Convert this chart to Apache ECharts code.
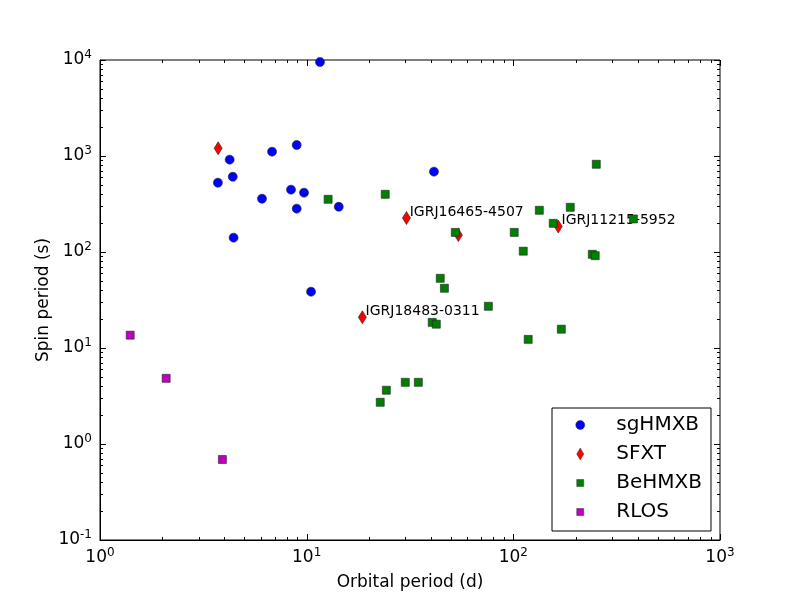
<!DOCTYPE html>
<html lang="en">
<head>
  <meta charset="UTF-8">
  <title>Spin period vs orbital period</title>
  <script src="https://cdn.jsdelivr.net/npm/echarts@6/dist/echarts.min.js"></script>
  <style>
    html, body { margin: 0; padding: 0; background: #fff; }
  </style>
</head>
<body>
  <div id="chart" style="width: 800px; height: 600px"></div>
  <script>
    // values (orbital period in days, spin period in seconds)
    const sgX = [11.6, 3.72, 4.24, 4.39, 4.43, 6.08, 6.80, 8.40, 8.95, 8.95, 9.71, 14.3, 10.5, 41.3]
    const sgY = [9530, 527, 916, 608, 141, 359, 1109, 446, 1302, 283, 415, 296, 38.6, 687]

    const sfxtX = [3.73, 30.4, 54.2, 165, 18.6]
    const sfxtY = [1203, 226, 150, 184, 20.9]
    const sfxtNames = ['', 'IGRJ16465-4507', '', 'IGRJ11215-5952', 'IGRJ18483-0311']

    const beX = [12.7, 24.0, 252, 133.6, 188.6, 156, 381, 52.4, 101, 111.7, 241, 249, 44.3, 46.4, 75.7, 40.5, 42.4, 170.7, 118, 30.0, 34.7, 24.3, 22.7]
    const beY = [354, 399, 820, 272, 292, 199, 221, 160, 160, 102, 94.6, 91.5, 53.2, 41.9, 27.2, 18.5, 17.7, 15.7, 12.3, 4.39, 4.39, 3.63, 2.72]

    const rlosX = [1.40, 2.09, 3.91]
    const rlosY = [13.6, 4.83, 0.69]

    const xRange = [1, 1000]
    const yRange = [0.1, 10000]

    const font = 'DejaVu Sans'
    const zip = (xs, ys) => xs.map((x, i) => [x, ys[i]])

    // tick positions for the log axes (major = decades, minor = 2..9 within)
    function logTicks(lo, hi) {
      let major = [], minor = []
      for (let e = Math.round(Math.log10(lo)); e <= Math.round(Math.log10(hi)); e++) {
        major.push(Math.pow(10, e))
        if (e < Math.round(Math.log10(hi))) {
          for (let m = 2; m <= 9; m++) minor.push(m * Math.pow(10, e))
        }
      }
      return {major, minor}
    }
    const xt = logTicks(xRange[0], xRange[1])
    const yt = logTicks(yRange[0], yRange[1])

    const tickLabel = v => '{b|10}{e|' + Math.round(Math.log10(v)) + '}'
    const tickRich = {
      b: {fontFamily: font, fontSize: 17, color: '#000'},
      e: {fontFamily: font, fontSize: 12, color: '#000', padding: [0, 0, 10, 0]}
    }

    // legend icons: the leading moveTo points pin every icon to the same 12x12 box,
    // so the marker inside keeps its own size
    const box = 'path://M0,0 M12,12 '
    const legendIcons = {
      sgHMXB: box + 'M10.5,6 A4.5,4.5 0 1 1 1.5,6 A4.5,4.5 0 1 1 10.5,6 Z',
      SFXT: box + 'M6,0 L9.5,6 L6,12 L2.5,6 Z',
      BeHMXB: box + 'M2.5,2.5 L9.5,2.5 L9.5,9.5 L2.5,9.5 Z',
      RLOS: box + 'M2.5,2.5 L9.5,2.5 L9.5,9.5 L2.5,9.5 Z'
    }

    // ticks on all four sides, drawn inward like the original
    function tickSeries(kind, values, len) {
      return {
        type: 'custom',
        silent: true,
        clip: false,
        z: 10,
        data: values.map(v => kind === 'x' ? [v, yRange[0]] : [xRange[0], v]),
        renderItem: (params, api) => {
          let cs = params.coordSys
          let p = api.coord([api.value(0), api.value(1)])
          let style = {stroke: '#000', lineWidth: 1}
          if (kind === 'x') {
            let x = Math.round(p[0]) + 0.5
            return {type: 'group', children: [
              {type: 'line', shape: {x1: x, y1: cs.y + cs.height, x2: x, y2: cs.y + cs.height - len}, style},
              {type: 'line', shape: {x1: x, y1: cs.y, x2: x, y2: cs.y + len}, style}
            ]}
          }
          let y = Math.round(p[1]) + 0.5
          return {type: 'group', children: [
            {type: 'line', shape: {x1: cs.x, y1: y, x2: cs.x + len, y2: y}, style},
            {type: 'line', shape: {x1: cs.x + cs.width, y1: y, x2: cs.x + cs.width - len, y2: y}, style}
          ]}
        }
      }
    }

    let chart = echarts.init(document.querySelector('#chart'))

    let option = {
      animation: false,
      backgroundColor: '#fff',
      grid: {left: 100, right: 80, top: 60, bottom: 60, show: true, borderColor: '#000', borderWidth: 1, backgroundColor: 'transparent'},
      xAxis: {
        type: 'log', logBase: 10, min: xRange[0], max: xRange[1],
        name: 'Orbital period (d)', nameLocation: 'middle', nameGap: 34,
        nameTextStyle: {fontFamily: font, fontSize: 17, color: '#000'},
        axisLine: {show: true, lineStyle: {color: '#000'}},
        axisTick: {show: false},
        splitLine: {show: false},
        axisLabel: {formatter: tickLabel, rich: tickRich, margin: 7}
      },
      yAxis: {
        type: 'log', logBase: 10, min: yRange[0], max: yRange[1],
        name: 'Spin period (s)', nameLocation: 'middle', nameGap: 48,
        nameMoveOverlap: false,
        nameTextStyle: {fontFamily: font, fontSize: 17, color: '#000'},
        axisLine: {show: true, lineStyle: {color: '#000'}},
        axisTick: {show: false},
        splitLine: {show: false},
        axisLabel: {formatter: tickLabel, rich: tickRich, margin: 8}
      },
      legend: {
        data: Object.keys(legendIcons).map(name => ({name, icon: legendIcons[name]})),
        orient: 'vertical',
        left: 552, top: 408,
        itemWidth: 12, itemHeight: 12, itemGap: 9,
        padding: [7, 9, 9, 22],
        borderColor: '#000', borderWidth: 1,
        backgroundColor: '#fff',
        itemStyle: {borderColor: '#333', borderWidth: 0.5},
        textStyle: {fontFamily: font, fontSize: 20, color: '#000', padding: [0, 0, 0, 25]},
        z: 20
      },
      series: [
        {
          name: 'sgHMXB', type: 'scatter', data: zip(sgX, sgY),
          symbol: 'circle', symbolSize: 9, z: 2,
          itemStyle: {color: '#0000ff', borderColor: '#222', borderWidth: 0.6, opacity: 1}
        },
        {
          name: 'SFXT', type: 'scatter', z: 2,
          data: sfxtX.map((x, i) => ({value: [x, sfxtY[i]], name: sfxtNames[i]})),
          symbol: 'diamond', symbolSize: [8, 13],
          itemStyle: {color: '#ff0000', borderColor: '#222', borderWidth: 0.6, opacity: 1},
          label: {
            show: true, position: 'right', distance: 0, offset: [-1, -6],
            formatter: p => p.name,
            fontFamily: font, fontSize: 14, color: '#000'
          }
        },
        {
          name: 'BeHMXB', type: 'scatter', data: zip(beX, beY),
          symbol: 'rect', symbolSize: 8, z: 3,
          itemStyle: {color: '#008000', borderColor: '#222', borderWidth: 0.6, opacity: 1}
        },
        {
          name: 'RLOS', type: 'scatter', data: zip(rlosX, rlosY),
          symbol: 'rect', symbolSize: 8, z: 3,
          itemStyle: {color: '#bf00bf', borderColor: '#222', borderWidth: 0.6, opacity: 1}
        },
        tickSeries('x', xt.major, 6),
        tickSeries('x', xt.minor, 3),
        tickSeries('y', yt.major, 6),
        tickSeries('y', yt.minor, 3)
      ]
    }
    chart.setOption(option)
  </script>
</body>
</html>
